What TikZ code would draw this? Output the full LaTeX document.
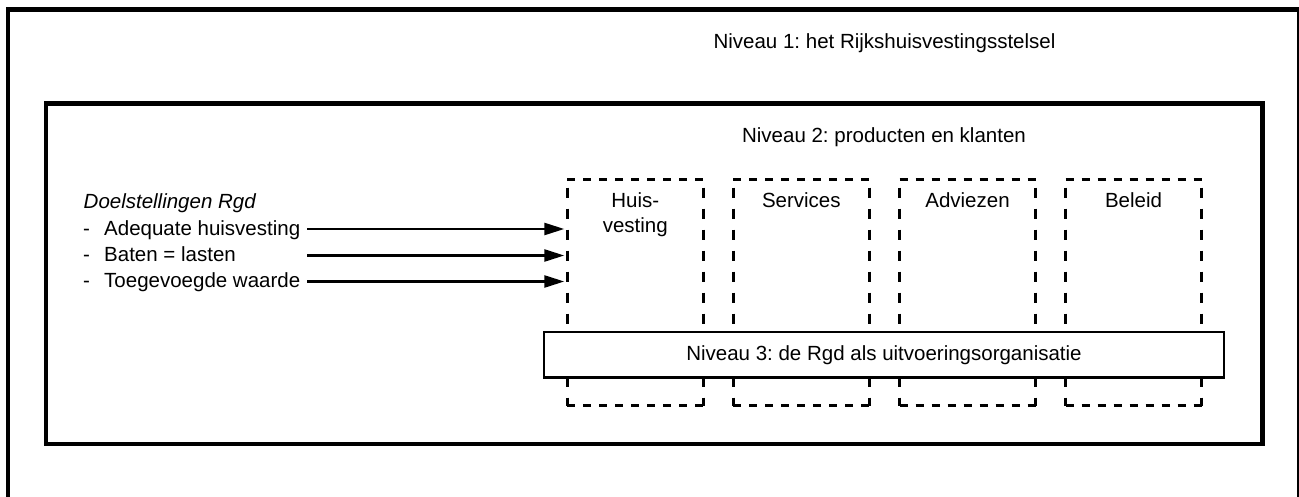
\documentclass[tikz,border=0pt]{standalone}
\usepackage{fontspec}
\setmainfont{Liberation Sans}
\usetikzlibrary{arrows.meta}
\frenchspacing
\begin{document}
\begin{tikzpicture}[x=1pt,y=-1pt,
  txt/.style={font=\fontsize{20.5}{24}\selectfont, inner sep=0pt},
  frame/.style={draw=black, line width=4.5pt},
  prodbox/.style={draw=none, minimum width=136pt, minimum height=226pt, inner sep=0pt, outer sep=0pt, anchor=north west},
  hdash/.style={line width=3pt, dash pattern=on 8pt off 8pt},
  vdash/.style={line width=3pt, dash pattern=on 10pt off 11pt, dash phase=13pt},
  arr/.style={line width=2.5pt, -{Triangle[length=20pt,width=12pt]}, shorten >=3pt},
  lvlbox/.style={draw=black, fill=white, line width=2.7pt, minimum width=680pt, minimum height=45.3pt, inner sep=0pt},
]
\useasboundingbox (0,0) rectangle (1299,497);
\clip (0,0) rectangle (1299,497);
% level 1 and level 2 frames
\draw[frame, line width=4.2pt] (8,9.5) rectangle (1299,540);
\draw[frame] (45.8,103.5) rectangle (1262.5,444);
\node[txt, anchor=base] (n1) at (884.5,49) {Niveau 1: het Rijkshuisvestingsstelsel};
\node[txt, anchor=base] (n2) at (884,143) {Niveau 2: producten en klanten};
% product boxes
\node[prodbox] (huis) at (567.3,179.7) {};
\node[prodbox] (serv) at (733.3,179.7) {};
\node[prodbox] (adv) at (899.5,179.7) {};
\node[prodbox] (bel) at (1065.5,179.7) {};
\foreach \b in {huis,serv,adv,bel}{
  \draw[hdash] (\b.north west) -- (\b.north east);
  \draw[hdash] (\b.south west) -- (\b.south east);
  \draw[vdash] (\b.north west) -- (\b.south west);
  \draw[vdash] (\b.north east) -- (\b.south east);
}
\node[txt, anchor=base] (lh1) at (huis.north |- 0,208) {Huis-};
\node[txt, anchor=base] (lh2) at (huis.north |- 0,233) {vesting};
\node[txt, anchor=base] (ls) at (serv.north |- 0,208) {Services};
\node[txt, anchor=base] (la) at (adv.north |- 0,208) {Adviezen};
\node[txt, anchor=base] (lb) at (bel.north |- 0,208) {Beleid};
% level 3
\node[txt, lvlbox] (n3) at (884,354.7) {Niveau 3: de Rgd als uitvoeringsorganisatie};
% goals
\node[txt, anchor=base west, font=\fontsize{20.5}{24}\selectfont\itshape] (goal) at (83.5,208.5) {Doelstellingen Rgd};
\node[txt, anchor=base west] (d1) at (83,235.5) {-};
\node[txt, anchor=base west] (d2) at (83,261.5) {-};
\node[txt, anchor=base west] (d3) at (83,287.5) {-};
\node[txt, anchor=base west] (i1) at (104,235.5) {Adequate huisvesting};
\node[txt, anchor=base west] (i2) at (104,261.5) {Baten = lasten};
\node[txt, anchor=base west] (i3) at (104,287.5) {Toegevoegde waarde};
\coordinate (a1) at (307,229);
\coordinate (a2) at (307,255.5);
\coordinate (a3) at (307,281.5);
\draw[arr] (a1) -- (a1 -| huis.west);
\draw[arr] (a2) -- (a2 -| huis.west);
\draw[arr] (a3) -- (a3 -| huis.west);
\end{tikzpicture}
\end{document}
